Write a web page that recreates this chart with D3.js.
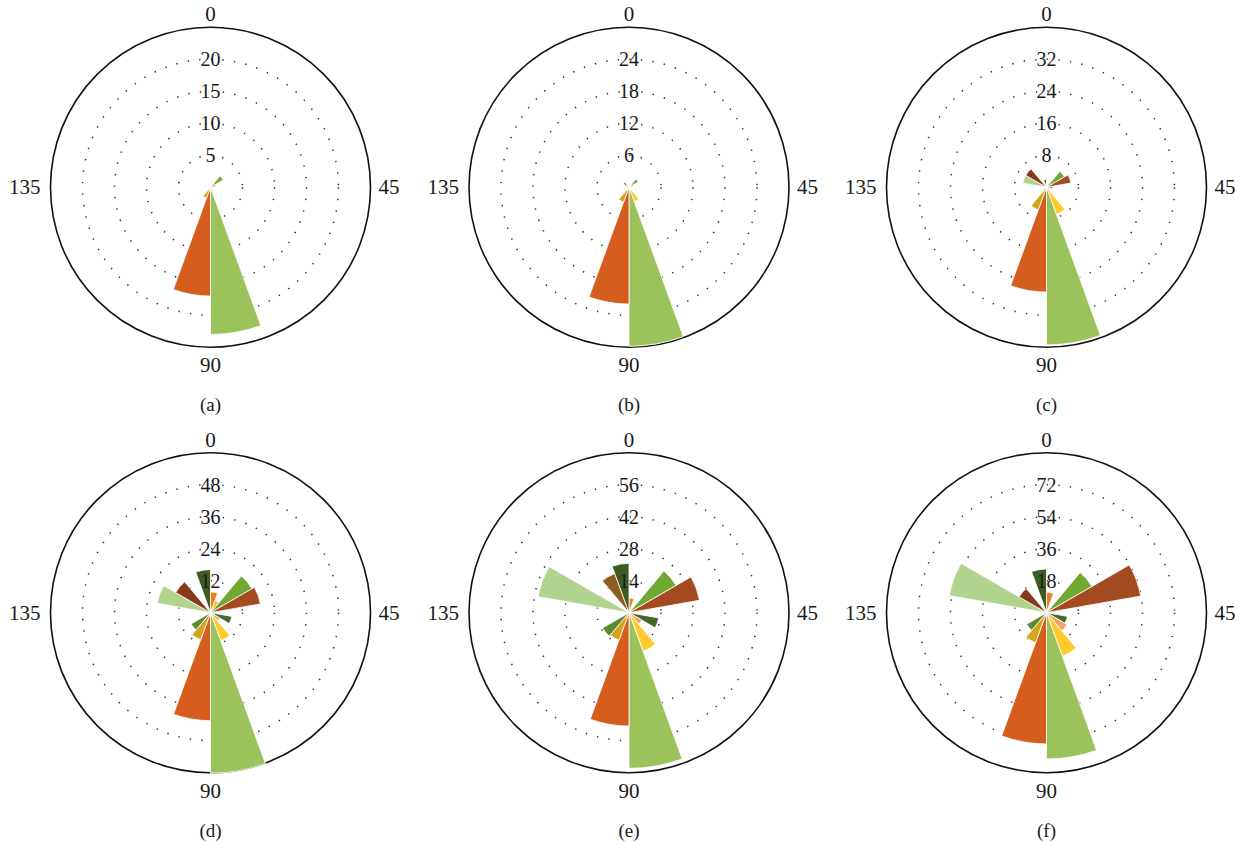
<!DOCTYPE html>
<html>
<head>
<meta charset="utf-8">
<script src="https://cdn.jsdelivr.net/npm/d3@7/dist/d3.min.js"></script>
<style>
  body { margin: 0; background: #fff; }
  text { font-family: "Liberation Serif", "Times New Roman", serif; fill: #1a1a1a; }
</style>
</head>
<body>
<svg id="chart" width="1245" height="842"></svg>
<script>
// orientation bins (degrees), each bin is 10 degrees wide, 0-180 wraps the whole circle
const binStarts = [0, 10, 20, 30, 40, 50, 60, 70, 80, 90, 100, 110, 120, 130, 140, 150, 160, 170];
const binColors = ['#ee7d25', '#ffc42a', '#70a832', '#a34a20', '#7a5a22', '#45692a', '#f3a06a', '#ffcb2a', '#9bc25b',
                   '#d55d1e', '#d6a31b', '#5b8c31', '#c9a05a', '#8fae62', '#b1d38e', '#87391a', '#8c5d20', '#3e5c22'];

// frequency per bin, one list per panel
const valuesA = [0, 0, 2.3, 0.8, 0, 0, 0.5, 0.6, 23.0, 17.0, 1.8, 0, 0, 0, 0, 0, 0, 0];
const valuesB = [0, 0, 2.0, 0.8, 0, 0, 0, 2.9, 29.8, 21.9, 3.0, 0, 0, 0, 0.6, 1.2, 0, 0];
const valuesC = [0.6, 0, 5.2, 6.2, 1.5, 0.8, 0.8, 7.2, 39.4, 26.2, 6.0, 0.8, 0, 0, 6.0, 6.0, 0, 2.0];
const valuesD = [7.8, 4.9, 18.0, 19.0, 0, 8.1, 4.0, 11.2, 60.2, 40.5, 10.8, 8.4, 0, 0, 20.3, 15.1, 0, 16.2];
const valuesE = [6.4, 0, 23.8, 31.3, 0, 13.2, 6.5, 18.0, 68.1, 49.6, 12.8, 13.4, 0, 0, 40.4, 0, 18.2, 21.6];
const valuesF = [11.5, 0, 29.5, 53.8, 0, 11.9, 13.4, 26.0, 82.3, 73.8, 18.0, 12.9, 0, 0, 55.5, 17.8, 0, 24.6];

// radial tick labels and the value of the outer (solid) circle
const ticksA = [5, 10, 15, 20];   const outerA = 25;
const ticksB = [6, 12, 18, 24];   const outerB = 30;
const ticksC = [8, 16, 24, 32];   const outerC = 40;
const ticksD = [12, 24, 36, 48];  const outerD = 60;
const ticksE = [14, 28, 42, 56];  const outerE = 70;
const ticksF = [18, 36, 54, 72];  const outerF = 90;

// angle labels round the rim
const angleLabels = [0, 45, 90, 135];
const panelLabels = ['(a)', '(b)', '(c)', '(d)', '(e)', '(f)'];

const panels = [
  {values: valuesA, ticks: ticksA, outer: outerA},
  {values: valuesB, ticks: ticksB, outer: outerB},
  {values: valuesC, ticks: ticksC, outer: outerC},
  {values: valuesD, ticks: ticksD, outer: outerD},
  {values: valuesE, ticks: ticksE, outer: outerE},
  {values: valuesF, ticks: ticksF, outer: outerF}
];

const R = 160; // outer circle radius
const centersX = [210.5, 629, 1046.5];
const centersY = [187.3, 612.7];

const svg = d3.select('#chart');

// data angle (0-180) -> screen angle, clockwise from top
const angle = d3.scaleLinear().domain([0, 180]).range([0, 2 * Math.PI]);

panels.forEach((p, i) => {
  const cx = centersX[i % 3];
  const cy = centersY[Math.floor(i / 3)];

  const r = d3.scaleLinear()
    .domain([0, p.outer])
    .range([0, R]);

  const g = svg.append('g')
    .attr('transform', `translate(${cx}, ${cy})`);

  //outer solid circle
  g.append('circle')
    .attr('r', r(p.outer))
    .attr('fill', 'none')
    .attr('stroke', '#111')
    .attr('stroke-width', 1.6);

  //dotted rings at each tick
  g.selectAll('.ring')
    .data(p.ticks)
    .enter()
    .append('circle')
    .attr('class', 'ring')
    .attr('r', d => r(d))
    .attr('fill', 'none')
    .attr('stroke', '#333')
    .attr('stroke-width', 1.5)
    .attr('stroke-dasharray', '1.4 10.2');

  //one wedge per bin
  const arc = d3.arc()
    .innerRadius(0)
    .outerRadius(d => r(d.value))
    .startAngle(d => angle(d.start))
    .endAngle(d => angle(d.start + 10));

  const bins = binStarts.map((s, k) => ({start: s, value: p.values[k], color: binColors[k]}))
    .filter(d => d.value > 0);

  g.selectAll('.wedge')
    .data(bins)
    .enter()
    .append('path')
    .attr('class', 'wedge')
    .attr('d', arc)
    .attr('fill', d => d.color)
    .attr('stroke', '#fff')
    .attr('stroke-width', 0.8);

  //tick labels up the 0 axis, on top of the wedges
  g.selectAll('.tickLabel')
    .data(p.ticks)
    .enter()
    .append('text')
    .attr('class', 'tickLabel')
    .attr('x', 0)
    .attr('y', d => -r(d))
    .attr('dy', '0.35em')
    .style('text-anchor', 'middle')
    .style('font-size', '20px')
    .text(d => d);

  //angle labels
  g.selectAll('.angleLabel')
    .data(angleLabels)
    .enter()
    .append('text')
    .attr('class', 'angleLabel')
    .attr('x', d => d === 45 ? R + 8 : d === 135 ? -R - 10 : 0)
    .attr('y', d => d === 0 ? -R - 6 : d === 90 ? R + 25 : 7)
    .style('text-anchor', d => d === 45 ? 'start' : d === 135 ? 'end' : 'middle')
    .style('font-size', '21px')
    .text(d => d);

  g.append('text')
    .attr('x', 0)
    .attr('y', 224)
    .style('text-anchor', 'middle')
    .style('font-size', '19px')
    .text(panelLabels[i]);
});
</script>
</body>
</html>
